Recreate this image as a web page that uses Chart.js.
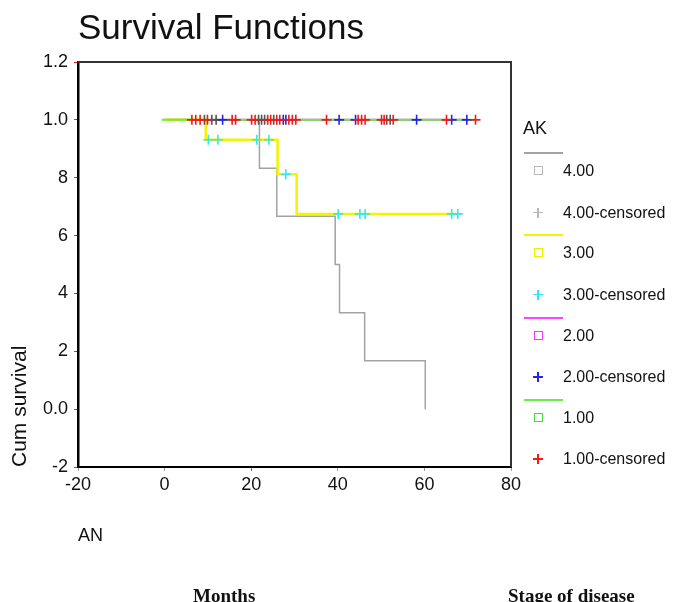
<!DOCTYPE html>
<html><head><meta charset="utf-8">
<script src="https://cdn.jsdelivr.net/npm/chart.js@4.4.0/dist/chart.umd.min.js"></script>
<style>
html,body{margin:0;padding:0;background:#fff;}
#wrap{position:relative;width:673px;height:602px;overflow:hidden;font-family:"Liberation Sans",Arial,sans-serif;color:#111;}
canvas{position:absolute;left:0;top:0;}
.t{position:absolute;white-space:nowrap;line-height:1;}
.ln{position:absolute;width:39px;height:2px;}
.sq{position:absolute;width:7px;height:7px;border:1.5px solid;box-sizing:content-box;}
.pl{position:absolute;width:10px;height:10px;}
.pl::before{content:"";position:absolute;left:0;top:4px;width:10px;height:1.6px;background:var(--c);}
.pl::after{content:"";position:absolute;left:4.2px;top:0;width:1.6px;height:10px;background:var(--c);}
.serif{font-family:"Liberation Serif","Times New Roman",serif;font-weight:bold;}
</style></head>
<body>
<div id="wrap">
<canvas id="c" width="673" height="602"></canvas>
<div class="t" style="left:78px;top:9px;font-size:35px;">Survival Functions</div>
<div class="t" style="left:523px;top:119px;font-size:18px;">AK</div>
<div id="legend"></div>
<div class="t" style="left:78px;top:526px;font-size:18px;">AN</div>
<div class="t serif" style="left:193px;top:586px;font-size:19px;">Months</div>
<div class="t serif" style="left:508px;top:586px;font-size:19px;">Stage of disease</div>
</div>
<script>
// ---- data ----
const xTickLabels = ['-20', '0', '20', '40', '60', '80'];
const yTickLabels = ['-2', '0.0', '2', '4', '6', '8', '1.0', '1.2'];
const groupNames = ['4.00', '3.00', '2.00', '1.00'];

// AK = 4.00 (grey)
const g4Times = [0, 21.9, 25.9, 39.4, 40.4, 46.2, 60.2];
const g4Surv  = [1.0, 0.833, 0.667, 0.5, 0.333, 0.167, 0.0];
const g4CensTimes = [9.2, 10.9, 11.9, 21.7, 22.4, 23.1, 25.2, 51.3, 52.1];
const g4CensSurv  = [1.0, 1.0, 1.0, 1.0, 1.0, 1.0, 1.0, 1.0, 1.0];

// AK = 3.00 (yellow)
const g3Times = [0, 9.5, 26.1, 30.5, 67.7];
const g3Surv  = [1.0, 0.931, 0.812, 0.675, 0.675];
const g3CensTimes = [10.1, 12.3, 21.3, 24.1, 28.0, 40.1, 45.1, 46.3, 66.3, 67.7];
const g3CensSurv  = [0.931, 0.931, 0.931, 0.931, 0.812, 0.675, 0.675, 0.675, 0.675, 0.675];

// AK = 2.00 (magenta)
const g2Times = [0, 69.8];
const g2Surv  = [1.0, 1.0];
const g2CensTimes = [13.4, 27.4, 28.0, 40.3, 44.1, 58.2, 66.3, 69.8];
const g2CensSurv  = [1.0, 1.0, 1.0, 1.0, 1.0, 1.0, 1.0, 1.0];

// AK = 1.00 (green)
const g1Times = [-0.7, 72.0];
const g1Surv  = [1.0, 1.0];
const g1CensTimes = [6.3, 7.2, 8.2, 9.9, 15.6, 16.4, 20.1, 20.9, 23.8, 24.5, 25.9, 26.6, 28.7, 29.5, 30.3, 37.4, 44.7, 45.5, 46.3, 50.1, 50.7, 52.8, 65.1, 71.8];
const g1CensSurv  = g1CensTimes.map(() => 1.0);

// ---- styles ----
const lineColors = ['#a3a3a3', '#f4f400', '#ff44ff', '#66ee44'];
const censColors = ['#555555', '#33e6f6', '#2424e8', '#f21a1a'];
const legendCensColors = ['#b8b8b8', '#33e6f6', '#2424e8', '#f21a1a'];
const legendSqColors = ['#b8b8b8', '#eeee00', '#ff33ff', '#44dd33'];

const pts = (xs, ys) => xs.map((x, i) => ({x: x, y: ys[i]}));

function lineDs(label, xs, ys, color, width, order) {
  return {type: 'line', label, data: pts(xs, ys), borderColor: color, borderWidth: width,
    stepped: 'before', fill: false, pointRadius: 0, order, showLine: true};
}
function censDs(label, xs, ys, color, order) {
  return {type: 'scatter', label, data: pts(xs, ys), pointStyle: 'cross', pointRadius: 5,
    pointBorderWidth: 1.6, borderColor: color, backgroundColor: color, order};
}

const datasets = [
  censDs('1.00-censored', g1CensTimes, g1CensSurv, censColors[3], 0),
  censDs('2.00-censored', g2CensTimes, g2CensSurv, censColors[2], 1),
  censDs('3.00-censored', g3CensTimes, g3CensSurv, censColors[1], 2),
  censDs('4.00-censored', g4CensTimes, g4CensSurv, censColors[0], 3),
  lineDs('1.00', g1Times, g1Surv, lineColors[3], 2, 4),
  lineDs('3.00', g3Times, g3Surv, lineColors[1], 2.5, 5),
  lineDs('4.00', g4Times, g4Surv, lineColors[0], 1.5, 6),
  lineDs('2.00', g2Times, g2Surv, lineColors[2], 2, 7)
];

const frame = {
  id: 'frame',
  afterDraw(chart) {
    const {ctx, chartArea: a} = chart;
    ctx.save();
    ctx.strokeStyle = '#333';
    ctx.lineWidth = 2;
    ctx.beginPath();
    ctx.moveTo(a.left, a.top); ctx.lineTo(a.right, a.top); ctx.lineTo(a.right, a.bottom);
    ctx.stroke();
    ctx.restore();
  }
};

const tickFont = {family: '"Liberation Sans", Arial, sans-serif', size: 18};

new Chart(document.getElementById('c'), {
  data: {datasets},
  options: {
    responsive: false, animation: false, devicePixelRatio: 1,
    layout: {padding: {left: 0, right: 162, top: 62, bottom: 105}},
    plugins: {legend: {display: false}, tooltip: {enabled: false}, title: {display: false}},
    scales: {
      x: {
        type: 'linear', min: -20, max: 80,
        ticks: {stepSize: 20, autoSkip: false, maxRotation: 0, color: '#111', font: tickFont, padding: 3,
          callback: (v, i) => xTickLabels[i]},
        grid: {drawOnChartArea: false, drawTicks: true, tickLength: 4,
          tickColor: c => (c.tick && c.tick.value === 20 ? '#e33' : '#999')},
        border: {display: true, color: '#000', width: 2},
        afterFit: s => { s.height = 30; }
      },
      y: {
        type: 'linear', min: -0.2, max: 1.2,
        ticks: {stepSize: 0.2, autoSkip: false, color: '#111', font: tickFont, padding: 6,
          callback: (v, i) => yTickLabels[i]},
        grid: {drawOnChartArea: false, drawTicks: true, tickLength: 4, tickColor: '#e22'},
        border: {display: true, color: '#000', width: 2.5},
        title: {display: true, text: 'Cum survival', align: 'start', color: '#111',
          font: {family: '"Liberation Sans", Arial, sans-serif', size: 21}, padding: {top: 8, bottom: 0}},
        afterFit: s => { s.width = 78; }
      }
    }
  },
  plugins: [frame]
});

// ---- legend (HTML) ----
const leg = document.getElementById('legend');
groupNames.forEach((name, i) => {
  const base = 153 + i * 82.3;
  const ln = document.createElement('div');
  ln.className = 'ln'; ln.style.left = '524px'; ln.style.top = (base - 1) + 'px';
  ln.style.background = lineColors[i];
  leg.appendChild(ln);
  const sq = document.createElement('div');
  sq.className = 'sq'; sq.style.left = '534px'; sq.style.top = (base + 18 - 5) + 'px';
  sq.style.borderColor = legendSqColors[i];
  leg.appendChild(sq);
  const t1 = document.createElement('div');
  t1.className = 't'; t1.style.fontSize = '16px'; t1.style.left = '563px'; t1.style.top = (base + 18 - 8) + 'px';
  t1.textContent = name; leg.appendChild(t1);
  const pl = document.createElement('div');
  pl.className = 'pl'; pl.style.left = '533px'; pl.style.top = (base + 59.5 - 5) + 'px';
  pl.style.setProperty('--c', legendCensColors[i]);
  leg.appendChild(pl);
  const t2 = document.createElement('div');
  t2.className = 't'; t2.style.fontSize = '16px'; t2.style.left = '563px'; t2.style.top = (base + 59.5 - 8) + 'px';
  t2.textContent = name + '-censored'; leg.appendChild(t2);
});
</script>
</body></html>
